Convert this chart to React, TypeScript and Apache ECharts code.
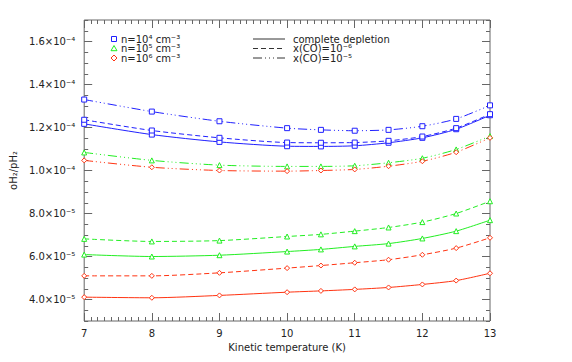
import React, { useEffect, useRef } from "react";
import * as echarts from "echarts";

const temps = [7, 8, 9, 10, 10.5, 11, 11.5, 12, 12.5, 13];

// n = 1e4 cm^-3 (blue, squares)
const n4Depl = [1.217e-4, 1.167e-4, 1.133e-4, 1.113e-4, 1.112e-4, 1.115e-4, 1.129e-4, 1.152e-4, 1.192e-4, 1.257e-4];
const n4Co6 = [1.236e-4, 1.186e-4, 1.152e-4, 1.130e-4, 1.129e-4, 1.130e-4, 1.138e-4, 1.158e-4, 1.197e-4, 1.262e-4];
const n4Co5 = [1.330e-4, 1.274e-4, 1.229e-4, 1.197e-4, 1.189e-4, 1.185e-4, 1.189e-4, 1.206e-4, 1.240e-4, 1.303e-4];

// n = 1e5 cm^-3 (green, triangles)
const n5Depl = [6.09e-5, 6.0e-5, 6.06e-5, 6.23e-5, 6.33e-5, 6.47e-5, 6.6e-5, 6.84e-5, 7.18e-5, 7.69e-5];
const n5Co6 = [6.82e-5, 6.7e-5, 6.74e-5, 6.93e-5, 7.03e-5, 7.18e-5, 7.35e-5, 7.6e-5, 8.0e-5, 8.57e-5];
const n5Co5 = [1.084e-4, 1.047e-4, 1.025e-4, 1.019e-4, 1.019e-4, 1.022e-4, 1.036e-4, 1.057e-4, 1.098e-4, 1.16e-4];

// n = 1e6 cm^-3 (red, diamonds)
const n6Depl = [4.11e-5, 4.08e-5, 4.19e-5, 4.34e-5, 4.4e-5, 4.47e-5, 4.56e-5, 4.7e-5, 4.88e-5, 5.22e-5];
const n6Co6 = [5.1e-5, 5.1e-5, 5.24e-5, 5.46e-5, 5.58e-5, 5.71e-5, 5.85e-5, 6.08e-5, 6.39e-5, 6.87e-5];
const n6Co5 = [1.047e-4, 1.015e-4, 1.0e-4, 0.997e-4, 1.0e-4, 1.005e-4, 1.02e-4, 1.043e-4, 1.085e-4, 1.152e-4];

const yMajorTicks = [4e-5, 6e-5, 8e-5, 1.0e-4, 1.2e-4, 1.4e-4, 1.6e-4];
const densityLabels = ["n=10⁴ cm⁻³", "n=10⁵ cm⁻³", "n=10⁶ cm⁻³"];
const styleLabels = ["complete depletion", "x(CO)=10⁻⁶", "x(CO)=10⁻⁵"];

const BLUE = "#2020ff";
const GREEN = "#22ee22";
const RED = "#ff3311";
const AXIS = "#666666";
const TEXT = "#222222";
const FONT = "DejaVu Sans";
const DASH = [5, 3];
const DASHDOT = [9, 3, 1, 3, 1, 3, 1, 3];

const SUP: Record<string, string> = {
  "-": "⁻", "0": "⁰", "1": "¹", "2": "²", "3": "³", "4": "⁴",
  "5": "⁵", "6": "⁶", "7": "⁷", "8": "⁸", "9": "⁹",
};

function sci(v: number): string {
  const e = Math.floor(Math.log10(v) + 1e-9);
  const m = v / Math.pow(10, e);
  return (
    m.toFixed(1) +
    "×10" +
    String(e)
      .split("")
      .map((c) => SUP[c])
      .join("")
  );
}

export default function App() {
  const ref = useRef<HTMLDivElement>(null);

  useEffect(() => {
    document.body.style.margin = "0";
    if (!ref.current) return;
    const chart = echarts.init(ref.current, null, { renderer: "svg" });

    const mk = (
      name: string,
      data: number[],
      color: string,
      symbol: string,
      dash: any
    ) => ({
      name,
      type: "line",
      xAxisIndex: 0,
      yAxisIndex: 0,
      data: temps.map((t, i) => [t, data[i]]),
      smooth: 0.25,
      symbol,
      symbolSize: 5,
      showSymbol: true,
      lineStyle: { color, width: 1, type: dash },
      itemStyle: { color: "#ffffff", borderColor: color, borderWidth: 1 },
      emphasis: { disabled: true },
      z: 3,
    });

    const baseX = {
      type: "value",
      min: 7,
      max: 13,
      interval: 1,
      axisLine: { show: false },
      splitLine: { show: false },
      axisTick: { show: true, inside: true, length: 8, lineStyle: { color: AXIS } },
      minorTick: { show: true, splitNumber: 10, length: 4, lineStyle: { color: AXIS } },
    };

    const baseY = {
      type: "value",
      min: 3e-5,
      max: 1.7e-4,
      axisLine: { show: false },
      splitLine: { show: false },
    };

    const legendX1 = 114;
    const legendX2 = 253;
    const rowsY = [39, 48.5, 58];

    const graphics: any[] = [];
    graphics.push({
      type: "rect",
      shape: { x: legendX1 - 2.5, y: rowsY[0] - 2.5, width: 5, height: 5 },
      style: { fill: "none", stroke: BLUE, lineWidth: 1 },
    });
    graphics.push({
      type: "polygon",
      shape: {
        points: [
          [legendX1, rowsY[1] - 3],
          [legendX1 + 3, rowsY[1] + 2.2],
          [legendX1 - 3, rowsY[1] + 2.2],
        ],
      },
      style: { fill: "none", stroke: GREEN, lineWidth: 1 },
    });
    graphics.push({
      type: "polygon",
      shape: {
        points: [
          [legendX1, rowsY[2] - 3],
          [legendX1 + 3, rowsY[2]],
          [legendX1, rowsY[2] + 3],
          [legendX1 - 3, rowsY[2]],
        ],
      },
      style: { fill: "none", stroke: RED, lineWidth: 1 },
    });
    densityLabels.forEach((t, i) => {
      graphics.push({
        type: "text",
        x: legendX1 + 7,
        y: rowsY[i],
        style: {
          text: t,
          fill: TEXT,
          font: `10px "${FONT}"`,
          verticalAlign: "middle",
          align: "left",
        },
      });
    });
    const dashes = [null, DASH, DASHDOT];
    styleLabels.forEach((t, i) => {
      graphics.push({
        type: "line",
        shape: { x1: legendX2, y1: rowsY[i], x2: legendX2 + 32, y2: rowsY[i] },
        style: { stroke: "#333333", lineWidth: 1, lineDash: dashes[i] as any },
      });
      graphics.push({
        type: "text",
        x: legendX2 + 40,
        y: rowsY[i],
        style: {
          text: t,
          fill: TEXT,
          font: `10px "${FONT}"`,
          verticalAlign: "middle",
          align: "left",
        },
      });
    });

    const option: any = {
      animation: false,
      backgroundColor: "#ffffff",
      textStyle: { fontFamily: FONT, color: TEXT },
      grid: {
        left: 82,
        right: 82,
        top: 20,
        bottom: 41,
        show: true,
        borderColor: AXIS,
        borderWidth: 1,
        backgroundColor: "transparent",
      },
      xAxis: [
        {
          ...baseX,
          position: "bottom",
          name: "Kinetic temperature (K)",
          nameLocation: "middle",
          nameGap: 18,
          nameTextStyle: { fontFamily: FONT, fontSize: 10, color: TEXT },
          axisLabel: { show: true, margin: 7, fontFamily: FONT, fontSize: 10, color: TEXT },
        },
        {
          ...baseX,
          position: "top",
          axisLabel: { show: false },
        },
      ],
      yAxis: [
        {
          ...baseY,
          position: "left",
          interval: 5e-6,
          axisTick: { show: true, inside: true, length: 4, lineStyle: { color: AXIS } },
          axisLabel: {
            show: true,
            customValues: yMajorTicks,
            formatter: (v: number) => sci(v),
            margin: 9,
            fontFamily: FONT,
            fontSize: 10,
            color: TEXT,
          },
          name: "oH₂/pH₂",
          nameLocation: "middle",
          nameGap: 55,
          nameTextStyle: { fontFamily: FONT, fontSize: 10, color: TEXT },
        },
        {
          ...baseY,
          position: "left",
          axisTick: {
            show: true,
            inside: true,
            length: 8,
            customValues: yMajorTicks,
            lineStyle: { color: AXIS },
          },
          axisLabel: { show: false },
        },
        {
          ...baseY,
          position: "right",
          interval: 5e-6,
          axisTick: { show: true, inside: true, length: 4, lineStyle: { color: AXIS } },
          axisLabel: { show: false },
        },
        {
          ...baseY,
          position: "right",
          axisTick: {
            show: true,
            inside: true,
            length: 8,
            customValues: yMajorTicks,
            lineStyle: { color: AXIS },
          },
          axisLabel: { show: false },
        },
      ],
      series: [
        mk("n4 depl", n4Depl, BLUE, "rect", "solid"),
        mk("n4 co6", n4Co6, BLUE, "rect", DASH),
        mk("n4 co5", n4Co5, BLUE, "rect", DASHDOT),
        mk("n5 depl", n5Depl, GREEN, "triangle", "solid"),
        mk("n5 co6", n5Co6, GREEN, "triangle", DASH),
        mk("n5 co5", n5Co5, GREEN, "triangle", DASHDOT),
        mk("n6 depl", n6Depl, RED, "diamond", "solid"),
        mk("n6 co6", n6Co6, RED, "diamond", DASH),
        mk("n6 co5", n6Co5, RED, "diamond", DASHDOT),
      ],
      graphic: graphics,
    };

    chart.setOption(option);
    return () => chart.dispose();
  }, []);

  return <div ref={ref} style={{ width: 572, height: 362 }} />;
}
